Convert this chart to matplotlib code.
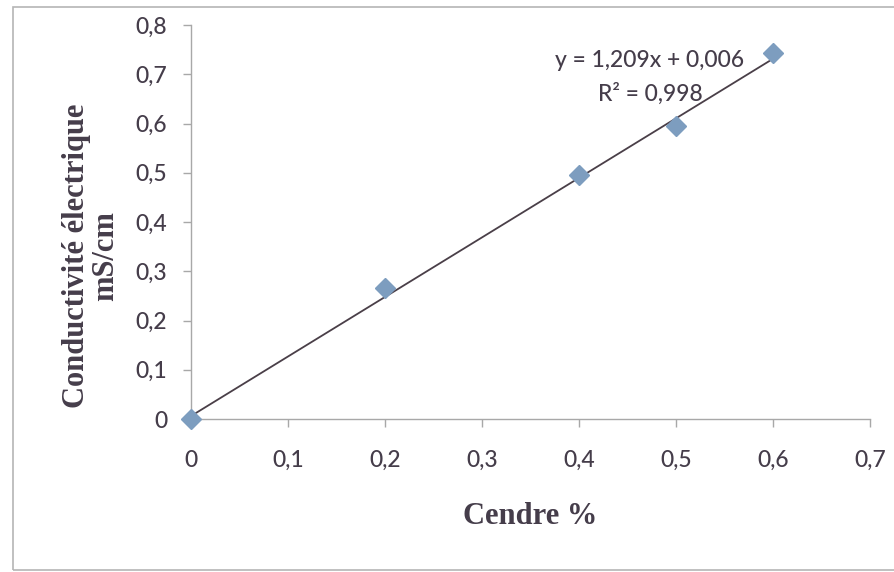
import matplotlib.pyplot as plt
from matplotlib.patches import Rectangle
from matplotlib.ticker import FuncFormatter
import numpy as np

# data
cendre = [0.0, 0.2, 0.4, 0.5, 0.6]
conductivite = [0.0, 0.267, 0.495, 0.594, 0.743]
slope, intercept = 1.209, 0.006
equation = "y = 1,209x + 0,006"
r2_text = "R² = 0,998"

x_ticks = [0, 0.1, 0.2, 0.3, 0.4, 0.5, 0.6, 0.7]
y_ticks = [0, 0.1, 0.2, 0.3, 0.4, 0.5, 0.6, 0.7, 0.8]

text_col = "#453d4a"
axis_col = "#a8a8a8"
marker_col = "#7d9dbf"
line_col = "#4a3f48"
tick_font = "Lato"
title_font = "Liberation Serif"

W, H = 894, 572
fig = plt.figure(figsize=(W / 100, H / 100), dpi=100)
ax = fig.add_axes([191 / W, 1 - 419 / H, (870 - 191) / W, (419 - 25) / H])

# outer frame of the pasted chart
fig.patches.append(Rectangle((13 / W, 1 - 570 / H), (W + 10) / W, (570 - 7) / H,
                             transform=fig.transFigure, fill=False,
                             edgecolor="#b5b5b5", lw=1.2))

xs = np.array([0, max(cendre)])
ax.plot(xs, slope * xs + intercept, color=line_col, lw=1.3, zorder=2)
ax.plot(cendre, conductivite, "D", ms=10, color=marker_col, mec=marker_col,
        zorder=3, clip_on=False)

ax.set_xlim(0, 0.7)
ax.set_ylim(0, 0.8)
ax.set_xticks(x_ticks)
ax.set_yticks(y_ticks)
comma = FuncFormatter(lambda v, p: ("%g" % round(v, 2)).replace(".", ","))
ax.xaxis.set_major_formatter(comma)
ax.yaxis.set_major_formatter(comma)

for s in ["top", "right"]:
    ax.spines[s].set_visible(False)
for s in ["left", "bottom"]:
    ax.spines[s].set_color(axis_col)
    ax.spines[s].set_linewidth(1)

ax.tick_params(axis="both", direction="out", length=6, width=1, color=axis_col,
               labelcolor=text_col, labelsize=16.5)
ax.tick_params(axis="x", pad=16)
ax.tick_params(axis="y", pad=11)
for lab in ax.get_xticklabels() + ax.get_yticklabels():
    lab.set_fontfamily(tick_font)
    lab.set_fontweight("medium")

ax.text(0.473, 0.727, equation, ha="center", va="center", fontsize=16.5,
        family=tick_font, fontweight="medium", color=text_col)
ax.text(0.474, 0.66, r2_text, ha="center", va="center", fontsize=16.5,
        family=tick_font, fontweight="medium", color=text_col)

fig.text(530 / W, 1 - 516 / H, "Cendre %", ha="center", va="center",
         fontsize=22, fontweight="bold", family=title_font, color=text_col)
fig.text(91 / W, 1 - 256 / H, "Conductivité électrique\nmS/cm", ha="center",
         va="center", rotation=90, fontsize=22, fontweight="bold",
         family=title_font, color=text_col, linespacing=1.0)

fig.savefig("out.png", dpi=100)
